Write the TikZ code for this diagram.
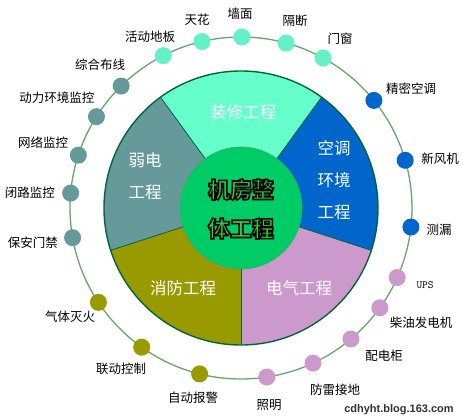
\documentclass[tikz,border=0pt]{standalone}
\usepackage{fontspec}
\setmainfont{Noto Sans CJK SC}
\newfontfamily\wmfont{Liberation Sans}
\definecolor{zx}{HTML}{66FFCC}
\definecolor{zxdot}{HTML}{66F0C8}
\definecolor{kt}{HTML}{0066CC}
\definecolor{dq}{HTML}{CC99CC}
\definecolor{xf}{HTML}{999900}
\definecolor{rd}{HTML}{669999}
\definecolor{cg}{HTML}{00CC66}
\definecolor{ctext}{HTML}{33CC33}
\definecolor{border}{HTML}{00663A}
\definecolor{ring}{HTML}{66A866}
\newcommand{\outlinetext}[1]{\textcolor{ctext}{\special{pdf:literal direct 0 0 0 RG 2 Tr 1.6 w}#1\special{pdf:literal direct 0 Tr 0.4 w}}}
\begin{document}
\begin{tikzpicture}[x=1pt,y=1pt,
  dot/.style={circle,inner sep=0pt,minimum size=17pt},
  lbl/.style={font=\fontsize{12.5}{14}\selectfont,text=black,inner sep=0pt},
  seclbl/.style={font=\fontsize{16.5}{32}\selectfont,text=white,inner sep=0pt,align=center},
  secline/.style={draw=border,line width=0.8pt},
]
\useasboundingbox (0,0) rectangle (463,416);
\fill[white] (0,0) rectangle (463,416);
\coordinate (O) at (241,208);
% outer ring
\draw[ring,line width=1.3pt] (O) circle (171);
% sectors
\fill[zx] (O) -- ([shift={(O)}]54:137) arc (54:126:137) -- cycle;
\fill[rd] (O) -- ([shift={(O)}]126:137) arc (126:198:137) -- cycle;
\fill[xf] (O) -- ([shift={(O)}]198:137) arc (198:270:137) -- cycle;
\fill[dq] (O) -- ([shift={(O)}]270:137) arc (270:342:137) -- cycle;
\fill[kt] (O) -- ([shift={(O)}]-18:137) arc (-18:54:137) -- cycle;
\foreach \a in {54,126,198,270,342}
  \draw[secline] ([shift={(O)}]\a:61) -- ([shift={(O)}]\a:137);
\draw[border,line width=1.4pt] (O) circle (137);
\fill[cg] (O) circle (61);
\draw[gray!50!cg,line width=0.6pt] (O) circle (61);
% sector labels
\node[seclbl] (szx) at (243,304) {装修工程};
\node[seclbl] (skt) at (334,236) {空调\\环境\\工程};
\node[seclbl] (srd) at (145,240) {弱电\\工程};
\node[seclbl] (sxf) at (183,128) {消防工程};
\node[seclbl] (sdq) at (299,128) {电气工程};
\node[inner sep=0pt,align=center,font=\fontsize{22}{39}\selectfont\bfseries] (ctr) at (241,207)
  {\outlinetext{机房整}\\\outlinetext{体工程}};
% dots
\foreach \n/\a/\c in {qm/89.7/zxdot, th/103.2/zxdot, hd/117/zxdot, gd/74.7/zxdot, mc/61.3/zxdot,
  zh/134.5/rd, dl/147.7/rd, wl/162/rd, bl/175/rd, ba/190/rd,
  qt/213.5/xf, ld/234.5/xf, zd/256/xf,
  zm/278.7/dq, fl/294.9/dq, pd/310/dq, cy/324.3/dq, ups/336/dq,
  cl/353.6/kt, xfj/16.2/kt, jm/39/kt}
  \node[dot,fill=\c] (d\n) at ([shift={(O)}]\a:171) {};
% labels
\node[lbl] (lqm) at (240,402) {墙面};
\node[lbl] (lth) at (197,396) {天花};
\node[lbl] (lhd) at (150,379) {活动地板};
\node[lbl] (lzh) at (100,351) {综合布线};
\node[lbl] (ldl) at (57,318) {动力环境监控};
\node[lbl] (lwl) at (43,273) {网络监控};
\node[lbl] (lbl) at (30,223) {闭路监控};
\node[lbl] (lgd) at (295,395) {隔断};
\node[lbl] (lmc) at (340,377) {门窗};
\node[lbl] (ljm) at (411,327) {精密空调};
\node[lbl] (lxfj) at (440,257) {新风机};
\node[lbl] (lba) at (33,173) {保安门禁};
\node[lbl] (lqt) at (70,99) {气体灭火};
\node[lbl] (lld) at (121,47) {联动控制};
\node[lbl] (lzd) at (193,18) {自动报警};
\node[lbl] (lcl) at (439,186) {测漏};
\node[lbl,font=\fontsize{11}{12}\selectfont\ttfamily] (lups) at (425,131) {UPS};
\node[lbl] (lcy) at (421,93) {柴油发电机};
\node[lbl] (lpd) at (384,60) {配电柜};
\node[lbl] (lfl) at (335,26) {防雷接地};
\node[lbl] (lzm) at (269,11) {照明};
\node[inner sep=0pt,font=\wmfont\bfseries\fontsize{11}{12}\selectfont,text=black!80] (wm) at (399,6) {cdhyht.blog.163.com};
\end{tikzpicture}
\end{document}
